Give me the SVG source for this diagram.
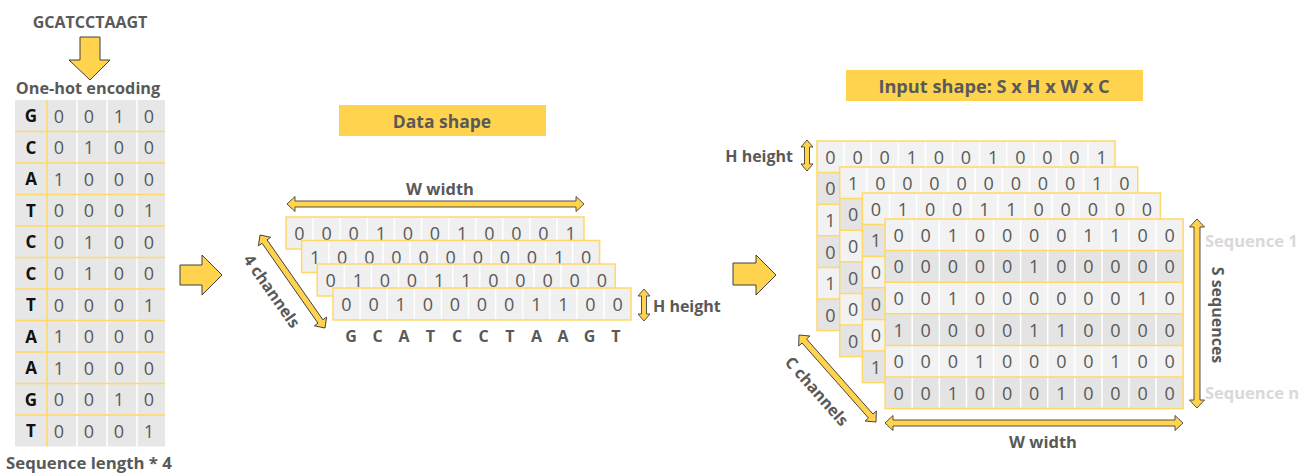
<svg xmlns="http://www.w3.org/2000/svg" xmlns:xlink="http://www.w3.org/1999/xlink" width="1312" height="473" viewBox="0 0 1312 473">
<style>
text{font-family:"Open Sans","Liberation Sans",sans-serif;dominant-baseline:central;text-anchor:middle}
.lbl{font-weight:700;font-size:16px;fill:#595959}
.num{font-weight:400;font-size:18px;fill:#595959}
.let{font-weight:700;font-size:17px;fill:#111}
.faint{font-weight:700;font-size:16.5px;fill:#d9d9d9;text-anchor:start}
.blk{fill:#FFD34E;stroke:#404040;stroke-width:1;stroke-linejoin:miter}
.dbl{fill:#FFD34E;stroke:#404040;stroke-width:0.9}
.tag{fill:#FFD34E}
.yl{stroke:#FFD966;stroke-width:1.5;fill:none}
.wl{stroke:#fff;stroke-width:1.5;fill:none}
</style>
<defs>
<g id="strip">
<rect width="298" height="32" fill="#f0f0f0"/>
<path class="wl" d="M27.1,1V31M54.2,1V31M81.3,1V31M108.4,1V31M135.5,1V31M162.6,1V31M189.7,1V31M216.8,1V31M243.9,1V31M271,1V31"/>
<rect class="yl" width="298" height="32"/>
</g>
<g id="grid6">
<rect y="0" width="298" height="31.6" fill="#f2f2f2"/>
<rect y="31.6" width="298" height="31.6" fill="#e4e4e4"/>
<rect y="63.2" width="298" height="31.6" fill="#f2f2f2"/>
<rect y="94.8" width="298" height="31.6" fill="#e4e4e4"/>
<rect y="126.4" width="298" height="31.6" fill="#f2f2f2"/>
<rect y="158" width="298" height="31.6" fill="#e4e4e4"/>
<path class="wl" d="M27.1,1V188.6M54.2,1V188.6M81.3,1V188.6M108.4,1V188.6M135.5,1V188.6M162.6,1V188.6M189.7,1V188.6M216.8,1V188.6M243.9,1V188.6M271,1V188.6"/>
<path class="yl" d="M0,31.6H298M0,63.2H298M0,94.8H298M0,126.4H298M0,158H298"/>
<rect class="yl" width="298" height="189.6"/>
</g>
</defs>
<rect width="1312" height="473" fill="#fff"/>

<g id="encoding">
<text class="lbl" x="90" y="22">GCATCCTAAGT</text>
<text class="lbl" x="88" y="88" style="font-size:16.3px">One-hot encoding</text>
<rect x="15" y="100" width="150" height="346.5" fill="#e7e7e7"/>
<path class="wl" d="M77,100V446.5M107,100V446.5M137,100V446.5"/>
<path class="yl" d="M47,100V446.5M15,131.5H165M15,163H165M15,194.5H165M15,226H165M15,257.5H165M15,289H165M15,320.5H165M15,352H165M15,383.5H165M15,415H165"/>
<text class="let" x="31 31 31 31 31 31 31 31 31 31 31" y="115.75 147.25 178.75 210.25 241.75 273.25 304.75 336.25 367.75 399.25 430.75">GCATCCTAAGT</text>
<text class="num" x="59 89 119 149" y="115.75">0010</text>
<text class="num" x="59 89 119 149" y="147.25">0100</text>
<text class="num" x="59 89 119 149" y="178.75">1000</text>
<text class="num" x="59 89 119 149" y="210.25">0001</text>
<text class="num" x="59 89 119 149" y="241.75">0100</text>
<text class="num" x="59 89 119 149" y="273.25">0100</text>
<text class="num" x="59 89 119 149" y="304.75">0001</text>
<text class="num" x="59 89 119 149" y="336.25">1000</text>
<text class="num" x="59 89 119 149" y="367.75">1000</text>
<text class="num" x="59 89 119 149" y="399.25">0010</text>
<text class="num" x="59 89 119 149" y="430.75">0001</text>
<text class="lbl" x="89" y="462" style="font-size:16.8px">Sequence length * 4</text>
</g>

<g id="data-shape">
<rect class="tag" x="339" y="105" width="207" height="31"/>
<text class="lbl" x="442" y="120.5" style="font-size:17.5px">Data shape</text>
<text class="lbl" x="440" y="188" style="font-size:16.5px">W width</text>
<g transform="translate(286,217)"><use xlink:href="#strip"/><text class="num" x="13.5 40.6 67.7 94.8 122 149 176.2 203.3 230.4 257.5 284.6" y="16">00010010001</text></g>
<g transform="translate(301.6,240.5)"><use xlink:href="#strip"/><text class="num" x="13.5 40.6 67.7 94.8 122 149 176.2 203.3 230.4 257.5 284.6" y="16">10000000010</text></g>
<g transform="translate(317.2,264)"><use xlink:href="#strip"/><text class="num" x="13.5 40.6 67.7 94.8 122 149 176.2 203.3 230.4 257.5 284.6" y="16">01001100000</text></g>
<g transform="translate(333,288)"><use xlink:href="#strip"/><text class="num" x="13.5 40.6 67.7 94.8 122 149 176.2 203.3 230.4 257.5 284.6" y="16">00100001100</text></g>
<text class="lbl" x="351 377.5 404 430.5 457 483.5 510 536.5 563 589.5 616" y="336">GCATCCTAAGT</text>
<text class="lbl" x="653" y="306" style="text-anchor:start">H height</text>
<text class="lbl" transform="translate(272,291) rotate(55)">4 channels</text>
</g>

<g id="input-shape">
<rect class="tag" x="846" y="70" width="297" height="31"/>
<text class="lbl" x="994" y="86" style="font-size:18.2px">Input shape: S x H x W x C</text>
<text class="lbl" x="793" y="156" style="text-anchor:end">H height</text>
<g transform="translate(817,141)"><use xlink:href="#grid6"/>
<text class="num" x="13.5 40.6 67.7 94.8 122 149 176.2 203.3 230.4 257.5 284.6" y="15.8">00010010001</text>
<text class="num" x="13.5 13.5 13.5 13.5 13.5" y="47.4 79 110.6 142.2 173.8">01010</text></g>
<g transform="translate(839.7,167)"><use xlink:href="#grid6"/>
<text class="num" x="13.5 40.6 67.7 94.8 122 149 176.2 203.3 230.4 257.5 284.6" y="15.8">10000000010</text>
<text class="num" x="13.5 13.5 13.5 13.5 13.5" y="47.4 79 110.6 142.2 173.8">00000</text></g>
<g transform="translate(862.4,193)"><use xlink:href="#grid6"/>
<text class="num" x="13.5 40.6 67.7 94.8 122 149 176.2 203.3 230.4 257.5 284.6" y="15.8">01001100000</text>
<text class="num" x="13.5 13.5 13.5 13.5 13.5" y="47.4 79 110.6 142.2 173.8">10001</text></g>
<g transform="translate(885.1,219)"><use xlink:href="#grid6"/>
<text class="num" x="13.5 40.6 67.7 94.8 122 149 176.2 203.3 230.4 257.5 284.6" y="15.8">00100001100</text>
<text class="num" x="13.5 40.6 67.7 94.8 122 149 176.2 203.3 230.4 257.5 284.6" y="47.4">00000100000</text>
<text class="num" x="13.5 40.6 67.7 94.8 122 149 176.2 203.3 230.4 257.5 284.6" y="79">00100000010</text>
<text class="num" x="13.5 40.6 67.7 94.8 122 149 176.2 203.3 230.4 257.5 284.6" y="110.6">10000110000</text>
<text class="num" x="13.5 40.6 67.7 94.8 122 149 176.2 203.3 230.4 257.5 284.6" y="142.2">00010000100</text>
<text class="num" x="13.5 40.6 67.7 94.8 122 149 176.2 203.3 230.4 257.5 284.6" y="173.8">00100010000</text></g>
<text class="faint" x="1205" y="240">Sequence 1</text>
<text class="faint" x="1205" y="392">Sequence n</text>
<text class="lbl" transform="translate(1218,315) rotate(90)">S sequences</text>
<text class="lbl" x="1043" y="441" style="font-size:16.5px">W width</text>
<text class="lbl" transform="translate(817,391) rotate(48.5)">C channels</text>
</g>

<g id="connectors">
<polygon class="blk" points="80,37 100,37 100,60 110,60 90,80 69,60 80,60"/>
<polygon class="blk" points="180,265 202,265 202,255 222,275 202,295 202,285 180,285"/>
<polygon class="blk" points="733,263 756,263 756,255 776,275 756,295 756,285 733,285"/>
<path class="dbl" transform="translate(287,204)" d="M0,0L8,-7.5V-3H289V-7.5L297,0L289,7.5V3H8V7.5Z"/>
<path class="dbl" transform="translate(644,289) rotate(90)" d="M0,0L7,-6V-2.5H25V-6L32,0L25,6V2.5H7V6Z"/>
<path class="dbl" transform="translate(260,235) rotate(55.05)" d="M0,0L8,-7.5V-3H105.5V-7.5L113.5,0L105.5,7.5V3H8V7.5Z"/>
<path class="dbl" transform="translate(807,140) rotate(90)" d="M0,0L7,-6V-2.5H24V-6L31,0L24,6V2.5H7V6Z"/>
<path class="dbl" transform="translate(1197,219) rotate(90)" d="M0,0L8,-7.5V-3H181V-7.5L189,0L181,7.5V3H8V7.5Z"/>
<path class="dbl" transform="translate(885,423)" d="M0,0L8,-7.5V-3H290V-7.5L298,0L290,7.5V3H8V7.5Z"/>
<path class="dbl" transform="translate(799,335) rotate(48.5)" d="M0,0L8,-7.5V-3H108.2V-7.5L116.2,0L108.2,7.5V3H8V7.5Z"/>
</g>
</svg>
